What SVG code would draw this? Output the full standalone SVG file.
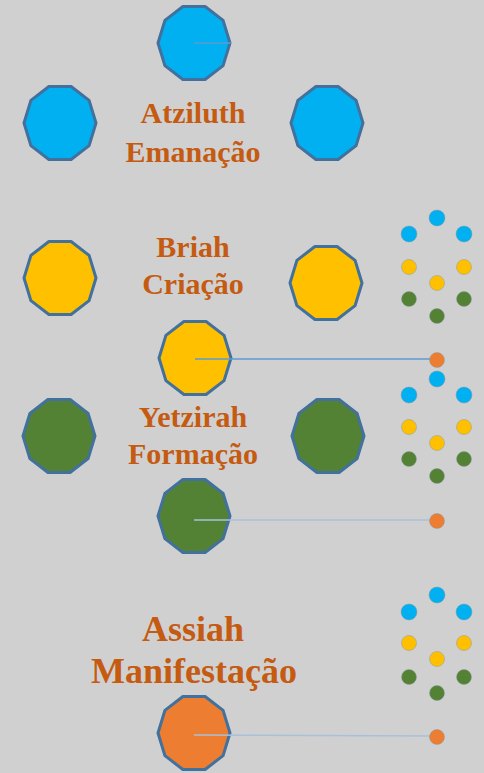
<svg xmlns="http://www.w3.org/2000/svg" xmlns:xlink="http://www.w3.org/1999/xlink" width="484" height="773" viewBox="0 0 484 773">
<style>
.dec{stroke:#41719c;stroke-width:3;stroke-linejoin:round}
.blue{fill:#00b0f0}
.yel{fill:#ffc000}
.grn{fill:#548235}
.org{fill:#ed7d31}
.dot{stroke:#8a9aa8;stroke-width:0.8;stroke-opacity:0.6}
.lbl{font-family:"Liberation Serif","Times New Roman",serif;font-weight:bold;fill:#c55a11;text-anchor:middle}
.conn{stroke:#5b9bd5;stroke-width:1.5;fill:none}
.faint{stroke:#a9c0da}
</style>
<defs>
<polygon id="deca" points="36,0 29.1,22.6 11.1,36.5 -11.1,36.5 -29.1,22.6 -36,0 -29.1,-22.6 -11.1,-36.5 11.1,-36.5 29.1,-22.6"/>
</defs>
<rect x="0" y="0" width="484" height="773" fill="#d0d0d0"/>

<g id="atziluth">
<use xlink:href="#deca" href="#deca" class="dec blue" x="194" y="43"/>
<use xlink:href="#deca" href="#deca" class="dec blue" x="60" y="123"/>
<use xlink:href="#deca" href="#deca" class="dec blue" x="327" y="123"/>
<text class="lbl" x="193" y="123" font-size="30">Atziluth</text>
<text class="lbl" x="193" y="162" font-size="30">Emanação</text>
</g>

<g id="briah">
<use xlink:href="#deca" href="#deca" class="dec yel" x="60" y="278"/>
<use xlink:href="#deca" href="#deca" class="dec yel" x="326" y="283"/>
<use xlink:href="#deca" href="#deca" class="dec yel" x="195" y="358"/>
<text class="lbl" x="193" y="257" font-size="30">Briah</text>
<text class="lbl" x="193" y="294" font-size="30">Criação</text>
</g>

<g id="yetzirah">
<use xlink:href="#deca" href="#deca" class="dec grn" x="59" y="436"/>
<use xlink:href="#deca" href="#deca" class="dec grn" x="328" y="436"/>
<use xlink:href="#deca" href="#deca" class="dec grn" x="194" y="516"/>
<text class="lbl" x="193" y="427" font-size="30">Yetzirah</text>
<text class="lbl" x="193" y="464" font-size="30">Formação</text>
</g>

<g id="assiah">
<use xlink:href="#deca" href="#deca" class="dec org" x="194" y="733"/>
<text class="lbl" x="193" y="641" font-size="36">Assiah</text>
<text class="lbl" x="194" y="683" font-size="36">Manifestação</text>
</g>

<g id="connectors">
<line class="conn" x1="194" y1="43" x2="231" y2="43"/>
<line class="conn" x1="195" y1="359" x2="436" y2="359"/>
<line class="conn faint" x1="194" y1="520" x2="436" y2="520"/>
<line class="conn faint" x1="194" y1="735" x2="436" y2="736"/>
</g>

<g id="dots1">
<circle class="dot blue" cx="437" cy="218" r="8"/>
<circle class="dot blue" cx="409" cy="234" r="8"/>
<circle class="dot blue" cx="464" cy="234" r="8"/>
<circle class="dot yel" cx="409" cy="267" r="7.5"/>
<circle class="dot yel" cx="464" cy="267" r="7.5"/>
<circle class="dot yel" cx="437" cy="283" r="7.5"/>
<circle class="dot grn" cx="409" cy="299" r="7.5"/>
<circle class="dot grn" cx="464" cy="299" r="7.5"/>
<circle class="dot grn" cx="437" cy="316" r="7.5"/>
<circle class="dot org" cx="437" cy="360" r="7.5"/>
</g>

<g id="dots2">
<circle class="dot blue" cx="437" cy="379" r="8"/>
<circle class="dot blue" cx="409" cy="395" r="8"/>
<circle class="dot blue" cx="464" cy="395" r="8"/>
<circle class="dot yel" cx="409" cy="427" r="7.5"/>
<circle class="dot yel" cx="464" cy="427" r="7.5"/>
<circle class="dot yel" cx="437" cy="443" r="7.5"/>
<circle class="dot grn" cx="409" cy="459" r="7.5"/>
<circle class="dot grn" cx="464" cy="459" r="7.5"/>
<circle class="dot grn" cx="437" cy="476" r="7.5"/>
<circle class="dot org" cx="437" cy="521" r="7.5"/>
</g>

<g id="dots3">
<circle class="dot blue" cx="437" cy="595" r="8"/>
<circle class="dot blue" cx="409" cy="612" r="8"/>
<circle class="dot blue" cx="464" cy="612" r="8"/>
<circle class="dot yel" cx="409" cy="643" r="7.5"/>
<circle class="dot yel" cx="464" cy="643" r="7.5"/>
<circle class="dot yel" cx="437" cy="659" r="7.5"/>
<circle class="dot grn" cx="409" cy="677" r="7.5"/>
<circle class="dot grn" cx="464" cy="677" r="7.5"/>
<circle class="dot grn" cx="437" cy="693" r="7.5"/>
<circle class="dot org" cx="437" cy="737" r="7.5"/>
</g>
</svg>
